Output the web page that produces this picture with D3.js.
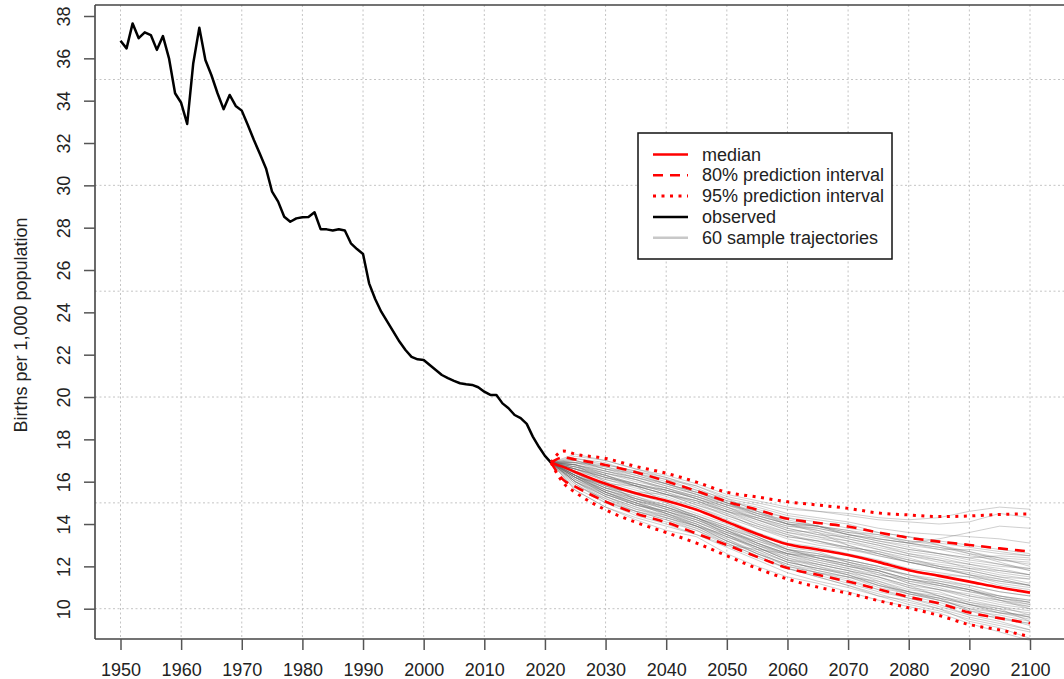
<!DOCTYPE html>
<html>
<head>
<meta charset="utf-8">
<script src="https://cdn.jsdelivr.net/npm/d3@7"></script>
<style>
  html, body { margin: 0; padding: 0; background: #fff; }
  svg { display: block; font-family: "Liberation Sans", Arial, Helvetica, sans-serif; }
</style>
</head>
<body>
<svg id="chart" width="1064" height="679"></svg>
<script>
// ---------- data ----------
const obsStartYear = 1950;
const obsValues = [
  36.83, 36.47, 37.65, 36.95, 37.23, 37.10, 36.40, 37.05, 36.00, 34.35,
  33.90, 32.90, 35.77, 37.45, 35.92, 35.20, 34.35, 33.60, 34.27, 33.75,
  33.53, 32.85, 32.14, 31.48, 30.80, 29.70, 29.23, 28.52, 28.28, 28.44,
  28.49, 28.50, 28.73, 27.93, 27.92, 27.87, 27.93, 27.87, 27.26, 26.99,
  26.76, 25.37, 24.63, 24.03, 23.56, 23.09, 22.62, 22.22, 21.90, 21.78,
  21.75, 21.51, 21.28, 21.04, 20.89, 20.76, 20.65, 20.60, 20.57, 20.46,
  20.25, 20.10, 20.10, 19.70, 19.47, 19.15, 19.00, 18.73, 18.13, 17.65,
  17.22, 16.90
];

const projYears = [2021, 2023, 2025, 2030, 2035, 2040, 2045, 2050, 2055, 2060, 2065, 2070, 2075, 2080, 2085, 2090, 2095, 2100];
const median  = [16.9, 16.70, 16.46, 15.90, 15.45, 15.10, 14.67, 14.10, 13.53, 13.05, 12.80, 12.54, 12.20, 11.82, 11.55, 11.28, 11.00, 10.76];
const upper80 = [16.9, 17.15, 17.05, 16.79, 16.45, 16.02, 15.56, 15.06, 14.68, 14.25, 14.05, 13.88, 13.60, 13.35, 13.17, 13.01, 12.85, 12.70];
const lower80 = [16.9, 16.10, 15.77, 15.06, 14.50, 14.08, 13.55, 13.01, 12.45, 11.92, 11.60, 11.28, 10.92, 10.55, 10.25, 9.82, 9.55, 9.31];
const upper95 = [16.9, 17.45, 17.30, 17.10, 16.72, 16.40, 15.98, 15.50, 15.28, 15.05, 14.90, 14.74, 14.52, 14.43, 14.35, 14.38, 14.45, 14.48];
const lower95 = [16.9, 15.95, 15.50, 14.67, 14.08, 13.60, 13.10, 12.50, 11.90, 11.40, 11.02, 10.73, 10.38, 10.04, 9.68, 9.25, 9.00, 8.68];

const trajYears = [2021, 2025, 2030, 2035, 2040, 2045, 2050, 2055, 2060, 2065, 2070, 2075, 2080, 2085, 2090, 2095, 2100];
const trajectories = [
  [16.9,17.3,17.0,16.6,16.2,15.8,15.2,14.6,14.0,13.6,13.0,12.6,12.2,11.9,11.6,11.2,11.0],
  [16.9,16.2,15.5,15.0,14.6,14.1,13.6,13.0,12.4,12.1,11.8,11.5,11.0,10.6,10.3,10.0,9.8],
  [16.9,16.8,16.4,16.1,15.7,15.3,14.8,14.2,13.7,13.6,13.3,13.0,12.6,12.4,12.1,11.9,11.6],
  [16.9,16.4,15.7,15.2,14.9,14.4,13.9,13.3,12.9,12.7,12.2,11.9,11.6,11.2,10.9,10.5,10.3],
  [16.9,17.0,16.6,16.3,15.9,15.5,15.0,14.6,14.1,13.9,13.7,13.5,13.1,12.9,12.7,12.4,12.3],
  [16.9,16.0,15.2,14.7,14.3,13.8,13.2,12.7,12.0,11.7,11.5,11.0,10.7,10.4,10.0,9.6,9.3],
  [16.9,16.6,16.1,15.8,15.4,14.9,14.5,13.8,13.4,13.2,12.8,12.6,12.3,12.0,11.8,11.5,11.2],
  [16.9,15.6,14.8,14.3,13.9,13.5,13.0,12.8,12.6,12.5,12.3,12.0,11.8,11.6,11.5,11.3,11.1],
  [16.9,16.7,16.3,15.9,15.6,15.2,14.6,14.0,13.6,13.3,13.1,12.8,12.5,12.2,12.0,11.7,11.5],
  [16.9,16.2,15.4,14.9,14.6,14.2,13.6,13.1,12.5,12.2,11.9,11.6,11.3,11.0,10.6,10.4,10.1],
  [16.9,16.9,16.7,16.4,16.0,15.6,15.2,14.9,14.5,14.3,14.1,13.8,13.6,13.5,13.4,13.3,13.1],
  [16.9,16.4,15.8,15.4,15.1,14.7,14.1,13.4,12.8,12.5,12.3,12.0,11.5,11.3,11.1,10.8,10.6],
  [16.9,15.9,15.0,14.4,14.0,13.5,12.9,12.3,11.7,11.3,11.0,10.6,10.2,9.9,9.5,9.2,8.9],
  [16.9,17.2,17.0,16.6,16.3,15.9,15.4,15.1,14.8,14.6,14.5,14.3,14.2,14.3,14.6,14.8,14.7],
  [16.9,16.6,16.2,15.8,15.4,15.0,14.4,13.9,13.5,13.1,12.9,12.7,12.4,12.0,11.6,11.4,11.1],
  [16.9,16.3,15.6,15.1,14.8,14.3,13.7,13.0,12.6,12.3,12.0,11.7,11.2,10.9,10.7,10.4,10.0],
  [16.9,16.8,16.5,16.2,15.8,15.4,15.0,14.4,14.0,13.8,13.5,13.2,13.0,12.8,12.5,12.3,12.1],
  [16.9,16.1,15.3,14.8,14.4,14.0,13.4,12.9,12.3,12.1,11.8,11.3,10.9,10.7,10.4,10.1,9.7],
  [16.9,15.6,14.8,14.2,13.7,13.4,12.6,12.0,11.5,11.2,10.8,10.4,10.1,9.8,9.3,8.9,8.5],
  [16.9,16.9,16.8,16.5,16.2,15.7,15.1,14.8,14.4,14.2,14.0,13.6,13.4,13.0,12.7,12.3,12.2],
  [16.9,17.1,16.8,16.5,16.1,15.8,15.3,15.0,14.7,14.6,14.4,14.2,14.1,14.0,14.1,14.5,14.3],
  [16.9,16.2,15.6,15.2,14.7,14.2,13.6,13.2,12.8,12.4,12.1,11.6,11.4,11.2,10.9,10.4,10.2],
  [16.9,15.8,15.2,14.6,14.2,13.8,13.1,12.5,11.9,11.5,11.1,10.6,10.4,10.0,9.6,9.3,9.0],
  [16.9,16.0,15.1,14.5,14.1,13.7,13.0,12.4,11.9,11.6,11.2,10.8,10.5,10.2,9.7,9.4,9.0],
  [16.9,16.7,16.2,15.9,15.5,15.0,14.6,14.1,13.6,13.4,13.2,12.8,12.5,12.3,11.9,11.8,11.6],
  [16.9,16.3,15.7,15.5,15.4,15.1,14.6,14.3,13.9,13.8,13.5,13.3,13.1,12.8,12.8,12.6,12.5],
  [16.9,16.6,16.3,15.8,15.0,14.3,13.5,12.8,12.2,11.9,11.7,11.2,10.8,10.4,10.0,9.8,9.7],
  [16.9,16.3,15.5,15.1,14.7,14.3,13.8,13.3,12.8,12.4,12.0,11.8,11.4,11.1,10.8,10.5,10.2],
  [16.9,16.9,16.5,16.2,15.9,15.5,15.0,14.5,14.0,13.7,13.3,13.0,12.7,12.5,12.2,12.0,11.9],
  [16.9,16.2,15.4,15.0,14.5,14.1,13.5,12.9,12.3,12.0,11.7,11.4,11.0,10.8,10.3,10.1,9.9],
  [16.9,17.1,16.9,16.4,16.1,15.6,15.0,14.5,14.1,13.9,13.7,13.3,13.1,13.3,13.6,13.9,13.8],
  [16.9,15.7,15.0,14.6,14.3,13.9,13.4,12.9,12.3,11.8,11.5,11.3,10.8,10.5,9.9,9.5,9.3],
  [16.9,16.0,15.3,14.8,14.3,13.9,13.3,12.6,12.1,11.8,11.5,11.1,10.8,10.5,10.2,9.9,9.6],
  [16.9,16.7,16.4,16.0,15.7,15.2,14.7,14.3,13.8,13.5,13.4,13.1,12.8,12.6,12.4,12.1,11.8],
  [16.9,16.2,15.9,15.8,15.6,15.3,14.9,14.5,14.2,13.9,13.6,13.5,13.2,13.0,12.6,12.4,12.0],
  [16.9,16.3,15.7,15.3,14.9,14.4,13.8,13.1,12.6,12.4,12.1,11.8,11.3,11.1,10.8,10.6,10.3],
  [16.9,16.8,16.3,15.9,15.5,15.1,14.6,14.2,13.7,13.4,13.0,12.6,12.2,12.0,11.8,11.5,11.4],
  [16.9,16.1,15.5,14.9,14.5,14.0,13.4,12.8,12.2,11.9,11.6,11.2,10.7,10.4,10.1,9.8,9.5],
  [16.9,16.8,16.0,15.1,14.5,13.9,13.5,12.9,12.4,12.0,11.6,11.1,10.7,10.5,10.2,9.9,9.6],
  [16.9,17.0,16.6,16.4,15.9,15.4,14.9,14.6,14.3,13.9,13.5,13.2,12.9,12.6,12.4,12.5,12.4],
  [16.9,17.0,16.7,16.3,15.9,15.5,15.1,14.7,14.3,14.1,13.8,13.6,13.4,13.2,13.0,12.8,12.6],
  [16.9,16.2,15.5,15.0,14.6,14.1,13.5,13.0,12.5,12.1,11.8,11.5,11.1,10.9,10.5,10.2,10.0],
  [16.9,16.6,16.2,15.8,15.4,14.9,14.4,13.9,13.4,13.2,12.9,12.5,12.2,11.9,11.7,11.4,11.1],
  [16.9,15.9,15.1,14.6,14.2,13.7,13.1,12.5,11.9,11.5,11.1,10.7,10.3,10.0,9.4,9.1,8.6],
  [16.9,16.0,15.4,14.9,14.6,14.2,13.7,13.1,12.6,12.2,11.9,11.5,11.1,10.6,10.2,10.0,9.4],
  [16.9,16.3,15.8,15.2,14.8,14.4,13.9,13.4,12.8,12.6,12.2,11.9,11.6,11.3,11.0,10.6,10.4],
  [16.9,16.8,16.4,16.1,15.6,15.2,14.7,14.2,13.8,13.5,13.2,12.9,12.6,12.3,12.1,11.8,11.6],
  [16.9,16.2,15.6,15.1,14.7,14.3,13.7,13.1,12.6,12.3,12.0,11.7,11.2,10.9,10.6,10.3,10.1],
  [16.9,16.6,16.2,15.9,15.6,15.2,14.8,14.4,14.0,13.9,13.5,13.3,13.1,12.9,12.6,12.2,11.8],
  [16.9,16.3,15.5,15.0,14.4,13.9,13.2,12.6,12.1,11.7,11.4,10.9,10.5,10.1,9.7,9.6,9.2],
  [16.9,16.9,16.6,16.2,15.8,15.4,14.9,14.4,14.0,13.9,13.6,13.4,13.2,13.1,12.9,12.7,12.5],
  [16.9,16.1,15.4,14.9,14.5,14.0,13.3,12.7,12.2,11.9,11.6,11.1,10.8,10.6,10.2,9.8,9.6],
  [16.9,16.5,16.1,15.7,15.3,14.8,14.3,13.8,13.3,13.0,12.8,12.5,12.2,11.9,11.6,11.3,11.1],
  [16.9,16.3,15.7,15.3,14.8,14.3,13.7,13.2,12.7,12.5,12.2,11.8,11.4,11.2,10.9,10.6,10.4],
  [16.9,16.7,16.3,15.8,15.4,15.1,14.5,14.0,13.5,13.2,12.9,12.7,12.3,12.1,11.9,11.6,11.4],
  [16.9,16.0,15.3,14.7,14.4,13.9,13.2,12.6,12.0,11.7,11.3,10.9,10.6,10.3,9.9,9.7,9.4],
  [16.9,16.6,16.0,15.6,15.2,14.8,14.2,13.6,13.1,12.9,12.6,12.3,11.9,11.7,11.5,11.1,10.9],
  [16.9,16.4,15.8,15.4,15.0,14.5,14.0,13.4,12.8,12.6,12.3,12.0,11.6,11.4,11.1,10.8,10.6],
  [16.9,16.8,16.5,16.1,15.7,15.3,14.8,14.3,13.9,13.7,13.4,13.1,12.8,12.6,12.3,12.1,11.9],
  [16.9,16.3,15.6,15.2,14.8,14.3,13.8,13.3,12.7,12.4,12.1,11.8,11.4,11.1,10.9,10.5,10.3]
];

const xTicks = [1950, 1960, 1970, 1980, 1990, 2000, 2010, 2020, 2030, 2040, 2050, 2060, 2070, 2080, 2090, 2100];
const yTicks = [10, 12, 14, 16, 18, 20, 22, 24, 26, 28, 30, 32, 34, 36, 38];
const yGrid = [10, 15, 20, 25, 30, 35];
const yLabel = "Births per 1,000 population";
const legendItems = [
  { label: "median", kind: "median" },
  { label: "80% prediction interval", kind: "pi80" },
  { label: "95% prediction interval", kind: "pi95" },
  { label: "observed", kind: "obs" },
  { label: "60 sample trajectories", kind: "traj" }
];

// ---------- layout ----------
const svg = d3.select("#chart");
const plotLeft = 95, plotTop = 5, plotBottom = 639, plotRight = 1075;
const x = d3.scaleLinear().domain([1950, 2100]).range([120.5, 1030]);
const y = d3.scaleLinear().domain([10, 38]).range([608.7, 16]);
const FS = 18;

const styles = {
  median: { stroke: "#ff0000", width: 2.6, dash: null },
  pi80:   { stroke: "#ff0000", width: 2.6, dash: "10,7" },
  pi95:   { stroke: "#ff0000", width: 3, dash: "3,5.5" },
  obs:    { stroke: "#000000", width: 2.5, dash: null },
  traj:   { stroke: "#c8c8c8", width: 2.5, dash: null }
};

// gridlines
const grid = svg.append("g");
grid.selectAll(".vg").data(xTicks).join("line")
  .attr("x1", d => x(d)).attr("x2", d => x(d))
  .attr("y1", plotTop).attr("y2", plotBottom)
  .attr("stroke", "#c4c4c4").attr("stroke-width", 1).attr("stroke-dasharray", "2,2.5");
grid.selectAll(".hg").data(yGrid).join("line")
  .attr("x1", plotLeft).attr("x2", plotRight)
  .attr("y1", d => y(d)).attr("y2", d => y(d))
  .attr("stroke", "#c4c4c4").attr("stroke-width", 1).attr("stroke-dasharray", "2,2.5");

// trajectories
const line = d3.line().x(d => x(d[0])).y(d => y(d[1]));
const smooth = d3.line().x(d => x(d[0])).y(d => y(d[1])).curve(d3.curveMonotoneX);
const trajG = svg.append("g");
trajectories.forEach(tr => {
  trajG.append("path")
    .attr("d", line(trajYears.map((yr, i) => [yr, tr[i]])))
    .attr("fill", "none").attr("stroke", "#6a6a6a")
    .attr("stroke-opacity", 0.32).attr("stroke-width", 1);
});

// observed
const obsData = obsValues.map((v, i) => [obsStartYear + i, v]);
svg.append("path").attr("d", line(obsData))
  .attr("fill", "none").attr("stroke", styles.obs.stroke)
  .attr("stroke-width", styles.obs.width).attr("stroke-linejoin", "round");

// intervals and median
function drawSeries(vals, st) {
  const p = svg.append("path")
    .attr("d", smooth(projYears.map((yr, i) => [yr, vals[i]])))
    .attr("fill", "none").attr("stroke", st.stroke)
    .attr("stroke-width", st.width).attr("stroke-linejoin", "round");
  if (st.dash) p.attr("stroke-dasharray", st.dash);
}
drawSeries(upper95, styles.pi95);
drawSeries(lower95, styles.pi95);
drawSeries(upper80, styles.pi80);
drawSeries(lower80, styles.pi80);
drawSeries(median, styles.median);

// axes frame
const axisColor = "#444";
svg.append("line").attr("x1", plotLeft).attr("x2", plotLeft).attr("y1", plotTop).attr("y2", plotBottom)
  .attr("stroke", axisColor).attr("stroke-width", 1.6);
svg.append("line").attr("x1", plotLeft).attr("x2", plotRight).attr("y1", plotTop).attr("y2", plotTop)
  .attr("stroke", axisColor).attr("stroke-width", 1.6);
svg.append("line").attr("x1", plotLeft).attr("x2", plotRight).attr("y1", plotBottom).attr("y2", plotBottom)
  .attr("stroke", axisColor).attr("stroke-width", 1.6);

// x axis ticks
const xAxisG = svg.append("g").attr("transform", `translate(0,${plotBottom})`);
xAxisG.call(d3.axisBottom(x).tickValues(xTicks).tickFormat(d3.format("d")).tickSize(11).tickPadding(26));
xAxisG.select(".domain").remove();
xAxisG.selectAll(".tick line").attr("stroke", "#555").attr("stroke-width", 1.5);
xAxisG.selectAll(".tick text").attr("font-size", FS).attr("fill", "#222")
  .attr("font-family", "'Liberation Sans', Arial, sans-serif").attr("dy", "0");

// y axis ticks
const yAxisG = svg.append("g").attr("transform", `translate(${plotLeft},0)`);
yAxisG.call(d3.axisLeft(y).tickValues(yTicks).tickFormat(d3.format("d")).tickSize(11).tickPadding(0));
yAxisG.select(".domain").remove();
yAxisG.selectAll(".tick line").attr("stroke", "#555").attr("stroke-width", 1.5);
yAxisG.selectAll(".tick text")
  .attr("font-size", FS).attr("fill", "#222")
  .attr("font-family", "'Liberation Sans', Arial, sans-serif")
  .attr("x", null).attr("dy", null)
  .attr("text-anchor", "middle")
  .attr("transform", "translate(-25,0) rotate(-90)");

// y label
svg.append("text")
  .attr("transform", `translate(27,${(plotTop + plotBottom) / 2 + 3}) rotate(-90)`)
  .attr("text-anchor", "middle").attr("font-size", FS).attr("fill", "#222")
  .text(yLabel);

// legend
const lg = svg.append("g");
lg.append("rect").attr("x", 638).attr("y", 133).attr("width", 254).attr("height", 126)
  .attr("fill", "#fff").attr("stroke", "#111").attr("stroke-width", 1.5);
legendItems.forEach((it, i) => {
  const ly = 154.5 + i * 20.8;
  const st = styles[it.kind];
  const l = lg.append("line").attr("x1", 653).attr("x2", 688).attr("y1", ly).attr("y2", ly)
    .attr("stroke", st.stroke).attr("stroke-width", st.width);
  if (st.dash) l.attr("stroke-dasharray", st.dash);
  lg.append("text").attr("x", 702).attr("y", ly + 6).attr("font-size", FS).attr("fill", "#222")
    .text(it.label);
});
</script>
</body>
</html>
